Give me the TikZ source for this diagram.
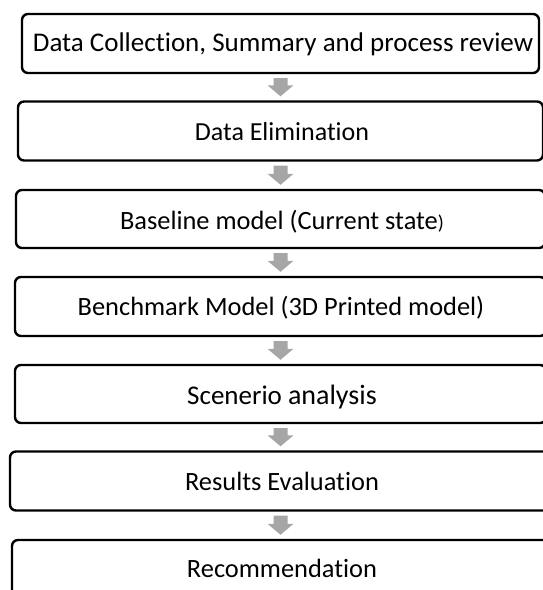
\documentclass[tikz,border=0pt]{standalone}
\usepackage{fontspec}
\setmainfont{Carlito}[Ligatures={NoCommon,NoContextual}]
\usetikzlibrary{calc}
\definecolor{arrowgray}{RGB}{166,166,166}
\tikzset{
  stagebox/.style={draw=black, line width=2.4pt, rounded corners=6pt, fill=white,
    minimum width=#1, minimum height=59pt, inner sep=0pt},
  stagetext/.style={anchor=base, inner sep=0pt, font=\fontsize{26.4}{30}\selectfont},
}
% block arrow from the bottom of one stage to the top of the next
\newcommand\flowarrow[2]{%
  \fill[arrowgray] let \p1=(#1.south), \p2=(#2.north) in
    (\x1-7pt,\y1-4pt) -- (\x1+7pt,\y1-4pt) -- (\x1+7pt,\y2+15pt) -- (\x1+13pt,\y2+15pt)
    -- (\x1,\y2+4pt) -- (\x1-13pt,\y2+15pt) -- (\x1-7pt,\y2+15pt) -- cycle;}
\begin{document}
\begin{tikzpicture}[x=1pt,y=-1pt]
\useasboundingbox (0,0) rectangle (543,590);
\clip (0,0) rectangle (543,590);
% stage frames
\node[stagebox=517pt] (b1) at (280.5,43.5) {};
\node[stagebox=525pt] (b2) at (280.5,131) {};
\node[stagebox=529pt, minimum height=58pt] (b3) at (280.5,219) {};
\node[stagebox=531pt] (b4) at (280.5,306.5) {};
\node[stagebox=531pt, minimum height=58pt] (b5) at (280.5,394) {};
\node[stagebox=541pt] (b6) at (280.5,481) {};
\node[stagebox=537pt] (b7) at (280.5,569.5) {};
% stage labels
\node[stagetext, font=\fontsize{27}{30}\selectfont] (t1) at (283,51.7) {Data Collection, Summary and process review};
\node[stagetext, font=\fontsize{26}{30}\selectfont] (t2) at (282,140.7) {Data Elimination};
\node[stagetext] (t3) at (282,229.5) {Baseline model (Current state{\fontsize{20}{24}\selectfont)}};
\node[stagetext] (t4) at (281,315.5) {Benchmark Model (3D Printed model)};
\node[stagetext, font=\fontsize{27}{30}\selectfont] (t5) at (282,404) {Scenerio {\fontsize{28}{32}\selectfont analysis}};
\node[stagetext] (t6) at (282,490.5) {Results Evaluation};
\node[stagetext] (t7) at (282,577.5) {Recommendation};
% connectors
\flowarrow{b1}{b2}
\flowarrow{b2}{b3}
\flowarrow{b3}{b4}
\flowarrow{b4}{b5}
\flowarrow{b5}{b6}
\flowarrow{b6}{b7}
\end{tikzpicture}
\end{document}
